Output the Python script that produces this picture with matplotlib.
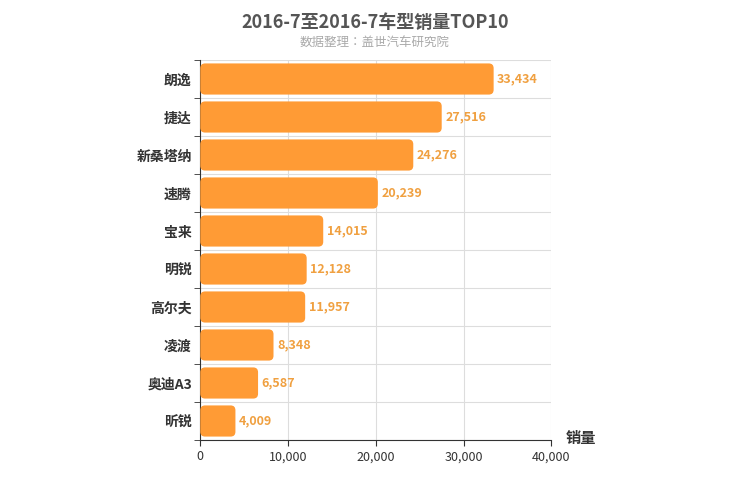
import matplotlib
matplotlib.use("Agg")
import matplotlib.pyplot as plt
from matplotlib.patches import FancyBboxPatch
import matplotlib.ticker as ticker
from matplotlib import font_manager

# pick whichever CJK family is actually registered
names = {f.name for f in font_manager.fontManager.ttflist}
cjk = [n for n in ["Noto Sans CJK SC", "Noto Sans CJK JP", "Noto Sans CJK TC",
                   "Noto Sans CJK KR", "Noto Sans SC"] if n in names]
print(sorted(n for n in names if "CJK" in n or "Noto" in n))
plt.rcParams["font.family"] = cjk + ["DejaVu Sans"]

# data
models = ["朗逸", "捷达", "新桑塔纳", "速腾", "宝来", "明锐", "高尔夫", "凌渡", "奥迪A3", "昕锐"]
sales = [33434, 27516, 24276, 20239, 14015, 12128, 11957, 8348, 6587, 4009]
x_ticks = [0, 10000, 20000, 30000, 40000]

fig = plt.figure(figsize=(7.5, 5), dpi=100)
ax = fig.add_axes([0.267, 0.12, 0.468, 0.76])
ax.set_xlim(0, 40000)
ax.set_ylim(len(models) - 0.5, -0.5)

# aspect so rounded corners look circular
px_x = 40000 / (0.468 * 750)
px_y = len(models) / (0.76 * 500)
aspect = px_y / px_x

h = 0.82
for i, v in enumerate(sales):
    bar = FancyBboxPatch((0, i - h / 2), v, h,
                         boxstyle="round,pad=0,rounding_size=550",
                         mutation_aspect=aspect,
                         facecolor="#ff9b35", edgecolor="none", zorder=3)
    ax.add_patch(bar)
    ax.text(v + 400, i, f"{v:,}", va="center", ha="left",
            fontsize=9, fontweight="bold", color="#f0a040", zorder=4)

ax.set_yticks(range(len(models)))
ax.set_yticklabels(models, fontsize=10, color="#333333", fontweight="bold")
ax.set_yticks([i + 0.5 for i in range(-1, len(models))], minor=True)
ax.set_xticks(x_ticks)
ax.xaxis.set_major_formatter(ticker.FuncFormatter(lambda x, p: f"{int(x):,}"))
ax.tick_params(axis="x", labelsize=9, colors="#333333", length=4)
ax.tick_params(axis="y", which="major", length=0, pad=6)
ax.tick_params(axis="y", which="minor", length=4, color="#333333")
ax.grid(axis="x", color="#dddddd", zorder=0)
ax.grid(axis="y", which="minor", color="#dddddd", zorder=0)

for s in ["top", "right"]:
    ax.spines[s].set_visible(False)
for s in ["left", "bottom"]:
    ax.spines[s].set_color("#333333")

fig.text(0.5, 0.955, "2016-7至2016-7车型销量TOP10", ha="center", va="center",
         fontsize=13, fontweight="bold", color="#555555")
fig.text(0.5, 0.915, "数据整理：盖世汽车研究院", ha="center", va="center",
         fontsize=9, color="#aaaaaa")
fig.text(0.775, 0.123, "销量", ha="center", va="center", fontsize=11,
         fontweight="bold", color="#333333")

fig.savefig("out.png", dpi=100)
